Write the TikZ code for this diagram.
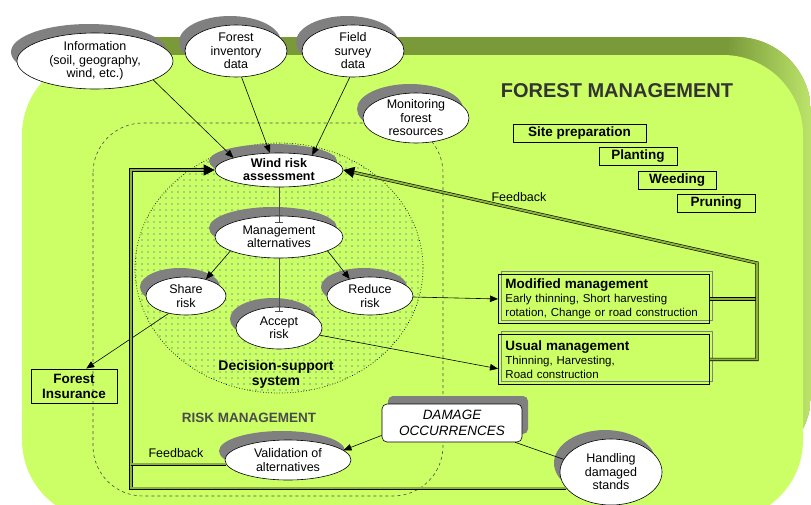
\documentclass[tikz,border=0pt]{standalone}
\usepackage{fontspec}
\setmainfont{Liberation Sans}
\usetikzlibrary{shapes.geometric, arrows.meta, shadows}

\definecolor{canopy}{HTML}{CCFF66}
\definecolor{bandolive}{HTML}{7A9A3A}
\definecolor{bandlight}{HTML}{BCE46A}
\definecolor{shadowgray}{HTML}{808080}
\definecolor{dotteal}{HTML}{5AAE9A}
\definecolor{fbolive}{HTML}{8CB23C}
\definecolor{titlegray}{HTML}{333333}

\tikzset{
  bubble/.style={ellipse, draw, fill=white, line width=0.6pt, inner xsep=0pt, inner ysep=-3pt,
    align=center, font=\fontsize{12.5}{13.5}\selectfont,
    general shadow={fill=shadowgray, shadow xshift=-6pt, shadow yshift=9pt}},
  taskbox/.style={draw, line width=0.9pt, minimum height=18pt, inner sep=0pt,
    font=\fontsize{13.5}{15}\selectfont\bfseries},
  mgmtbox/.style={draw, line width=0.9pt, anchor=north west, minimum width=211pt,
    text width=197pt, inner xsep=7pt, inner ysep=3pt, align=left,
    font=\fontsize{11.5}{14}\selectfont,
    general shadow={draw=shadowgray, line width=0.8pt, shadow xshift=3pt, shadow yshift=3pt}},
  arr/.style={-{Triangle[length=8pt,width=6.5pt]}, line width=0.6pt},
  bararr/.style={-{Bar[width=8pt]}, line width=0.6pt, draw=black!70},
  fbline/.style={line width=0.6pt, double=fbolive, double distance=2pt},
  fbarr/.style={fbline, -{Triangle[length=11pt,width=11pt]}},
}

\begin{document}
\begin{tikzpicture}[x=1pt, y=-1pt]
    \useasboundingbox (0,0) rectangle (811,504);
    \clip (0,0) rectangle (811,504);

    % Forest management area: dark rim behind, light green in front
    \begin{scope}
        \clip[rounded corners=75pt] (40,37) rectangle (811,470);
        \fill[bandolive] (40,37) rectangle (811,470);
        \shade[left color=bandolive, right color=bandlight] (727,37) rectangle (811,470);
    \end{scope}
    \fill[canopy, rounded corners=80pt] (22,55) rectangle (803,520);

    % Risk management area
    \draw[dashed, black!70, line width=0.6pt, rounded corners=50pt] (93,123) rectangle (443,496);

    % Decision-support system, dotted fill
    \begin{scope}
        \clip (279,268) ellipse [x radius=144, y radius=125];
        \foreach \i in {0,...,48}
            \foreach \j in {0,...,42}
                \fill[dotteal] (136+6*\i,144+6*\j) circle [radius=0.9];
    \end{scope}
    \draw[dotted, line width=0.7pt] (279,268) ellipse [x radius=144, y radius=125];

    % Data sources
    \node[bubble, minimum width=156pt, minimum height=56pt] (info) at (95,61) {Information\\(soil, geography,\\wind, etc.)};
    \node[bubble, minimum width=102pt, minimum height=52pt] (inv) at (236,51) {Forest\\inventory\\data};
    \node[bubble, minimum width=102pt, minimum height=52pt] (field) at (353,51) {Field\\survey\\data};
    \node[bubble, minimum width=106pt, minimum height=50pt] (monitor) at (416,118) {Monitoring\\forest\\resources};

    % Decision chain
    \node[bubble, minimum width=128pt, minimum height=34pt, font=\fontsize{12.5}{13}\selectfont\bfseries] (wind) at (279,170) {Wind risk\\assessment};
    \node[bubble, minimum width=128pt, minimum height=42pt] (mgmt) at (279,237) {Management\\alternatives};
    \node[bubble, minimum width=80pt, minimum height=38pt] (share) at (186,296) {Share\\risk};
    \node[bubble, minimum width=86pt, minimum height=38pt] (reduce) at (370,296) {Reduce\\risk};
    \node[bubble, minimum width=86pt, minimum height=42pt] (accept) at (279,328) {Accept\\risk};
    \node[bubble, minimum width=126pt, minimum height=40pt] (valid) at (288,460) {Validation of\\alternatives};
    \node[bubble, minimum width=102pt, minimum height=66pt] (hand) at (611,472) {Handling\\damaged\\stands};

    % Boxes
    \node[draw, line width=0.9pt, minimum width=86pt, minimum height=34pt, inner sep=0pt, align=center,
          font=\fontsize{13.5}{15}\selectfont\bfseries] (ins) at (74,386) {Forest\\Insurance};
    \node[draw, fill=white, rounded corners=5pt, line width=0.6pt, minimum width=140pt, minimum height=38pt,
          inner sep=0pt, align=center, font=\fontsize{13.5}{16}\selectfont\itshape,
          general shadow={fill=shadowgray, shadow xshift=6pt, shadow yshift=8pt}] (dmg) at (452,423) {DAMAGE\\OCCURRENCES};
    \node[mgmtbox, minimum height=49pt] (mod) at (498,274)
        {{\fontsize{13.5}{14}\selectfont\bfseries Modified management}\\Early thinning, Short harvesting\\rotation, Change or road construction};
    \node[mgmtbox, minimum height=50pt] (usual) at (498,334)
        {{\fontsize{13.5}{14}\selectfont\bfseries Usual management}\\Thinning, Harvesting,\\Road construction};

    % Silvicultural operations
    \node[taskbox, minimum width=133pt] (site) at (579.5,133) {Site preparation};
    \node[taskbox, minimum width=78pt] (plant) at (638,156.5) {Planting};
    \node[taskbox, minimum width=78pt] (weed) at (677,180.5) {Weeding};
    \node[taskbox, minimum width=78pt] (prune) at (716,203.5) {Pruning};

    % Titles
    \node[font=\fontsize{20}{24}\selectfont\bfseries, text=titlegray] (fmtitle) at (617,91) {FOREST MANAGEMENT};
    \node[font=\fontsize{13.5}{16}\selectfont\bfseries, text=black!70] (rmtitle) at (249,418) {RISK MANAGEMENT};
    \node[font=\fontsize{14}{15}\selectfont\bfseries, align=center] (dsstitle) at (276,374) {Decision-support\\system};

    % Arrows
    \draw[arr] (info.-18) -- (wind.165);
    \draw[arr] (inv.-78) -- (wind.118);
    \draw[arr] (field.-97) -- (wind.24);
    \draw[bararr, shorten >=-7pt] (wind) -- (mgmt);
    \draw[bararr, shorten >=-5pt] (mgmt) -- (accept);
    \draw[arr] (mgmt.-164) -- (share.40);
    \draw[arr] (mgmt.-16) -- (reduce.140);
    \draw[arr] (share.-135) -- (ins.55);
    \draw[arr] (reduce) -- (mod.west);
    \draw[arr] (accept.-10) -- (usual.185);
    \draw[arr] (dmg.-170) -- (valid.10);
    \draw[line width=0.6pt] (dmg.-17) -- (hand.165);

    % Feedback loops
    \coordinate (fbR) at (757,263);
    \coordinate (fbL) at (131,170);
    \draw[fbline] (mod.east) -- (mod.east -| fbR);
    \draw[fbarr] (usual.east) -- (usual.east -| fbR) -- (fbR) -- (wind.east);
    \draw[fbarr] (hand.200) -- (hand.200 -| fbL) -- (fbL) -- (wind.west);
    \draw[fbline] (valid.184) -- (valid.184 -| fbL);
    \node[font=\fontsize{12.5}{14}\selectfont] (fbtop) at (519,197) {Feedback};
    \node[font=\fontsize{12.5}{14}\selectfont] (fbleft) at (176,453) {Feedback};
\end{tikzpicture}
\end{document}
